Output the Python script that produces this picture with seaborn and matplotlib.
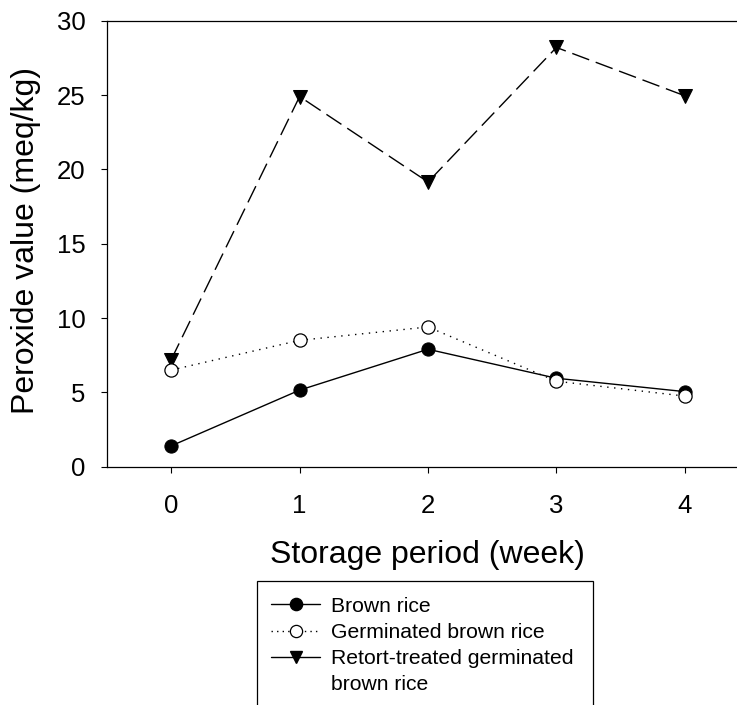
import matplotlib
matplotlib.use("Agg")
import matplotlib.pyplot as plt
from matplotlib.lines import Line2D
from matplotlib.patches import Rectangle
import seaborn as sns

# ---- data ----
weeks = [0, 1, 2, 3, 4]
brown_rice = [1.4, 5.15, 7.9, 5.95, 5.05]
germinated = [6.5, 8.5, 9.4, 5.75, 4.75]
retort = [7.2, 24.9, 19.15, 28.2, 24.95]
series_names = ["Brown rice", "Germinated brown rice",
                "Retort-treated germinated", "brown rice"]
y_ticks = [0, 5, 10, 15, 20, 25, 30]
x_ticks = [0, 1, 2, 3, 4]

sns.set_style("ticks")
plt.rcParams["font.family"] = ["Liberation Sans", "DejaVu Sans"]
plt.rcParams["text.color"] = "black"
plt.rcParams["axes.labelcolor"] = "black"

W, H = 737, 705
fig = plt.figure(figsize=(W / 100, H / 100), dpi=100)
ax_left, ax_right, ax_top, ax_bottom = 107, 749, 20.7, 466.7
ax = fig.add_axes([ax_left / W, 1 - ax_bottom / H,
                   (ax_right - ax_left) / W, (ax_bottom - ax_top) / H])

ms = 9.5
lw = 1.0
sns.lineplot(x=weeks, y=retort, ax=ax, color="black", linewidth=lw,
             linestyle=(0, (13, 5)), marker="v", markersize=ms,
             markerfacecolor="black", markeredgecolor="black",
             errorbar=None, zorder=3)
sns.lineplot(x=weeks, y=brown_rice, ax=ax, color="black", linewidth=lw,
             linestyle="-", marker="o", markersize=ms,
             markerfacecolor="black", markeredgecolor="black",
             errorbar=None, zorder=4)
sns.lineplot(x=weeks, y=germinated, ax=ax, color="black", linewidth=lw,
             linestyle=(0, (1, 4)), marker="o", markersize=ms,
             markerfacecolor="white", markeredgecolor="black",
             markeredgewidth=0.9, errorbar=None, zorder=5)

ax.set_xlim(-0.5, 4.5)
ax.set_ylim(0, 30)
ax.set_xticks(x_ticks)
ax.set_yticks(y_ticks)
ax.set_xticklabels([str(v) for v in x_ticks])
ax.set_yticklabels([str(v) for v in y_ticks])

for s in ["left", "top", "bottom"]:
    ax.spines[s].set_visible(True)
    ax.spines[s].set_linewidth(0.9)
    ax.spines[s].set_color("black")
ax.spines["right"].set_visible(False)

ax.tick_params(axis="x", direction="out", length=4.5, width=0.8,
               labelsize=18.5, pad=15, colors="black", top=False)
ax.tick_params(axis="y", direction="out", length=4.5, width=0.8,
               labelsize=18.5, pad=11, colors="black", right=False)

ax.set_xlabel("Storage period (week)", fontsize=23)
ax.set_ylabel("Peroxide value (meq/kg)", fontsize=23)
ax.xaxis.set_label_coords((427 - ax_left) / (ax_right - ax_left),
                          (ax_bottom - 540) / (ax_bottom - ax_top))
ax.yaxis.set_label_coords((41 - ax_left) / (ax_right - ax_left),
                          (ax_bottom - 241) / (ax_bottom - ax_top))

# legend
lms = 8.8
handles = [
    Line2D([], [], color="black", lw=lw, ls="-", marker="o", markersize=lms,
           markerfacecolor="black", markeredgecolor="black"),
    Line2D([], [], color="black", lw=lw, ls=(0, (1, 3)), marker="o",
           markersize=lms, markerfacecolor="white", markeredgecolor="black",
           markeredgewidth=0.9),
    Line2D([], [], color="black", lw=lw, ls="-", marker="v", markersize=lms,
           markerfacecolor="black", markeredgecolor="black"),
    Line2D([], [], color="none", lw=0),
]
leg = fig.legend(handles, series_names, loc="upper left",
                 bbox_to_anchor=(255 / W, 1 - 581 / H), frameon=False,
                 fontsize=15.2, borderaxespad=0, borderpad=0.75,
                 handlelength=2.35, handletextpad=0.5, labelspacing=0.34)

fig.patches.append(Rectangle((257 / W, -0.05), (593 - 257) / W,
                             (1 - 581 / H) + 0.05, transform=fig.transFigure,
                             fill=False, edgecolor="black", linewidth=0.9))

fig.savefig("out.png", dpi=100)
